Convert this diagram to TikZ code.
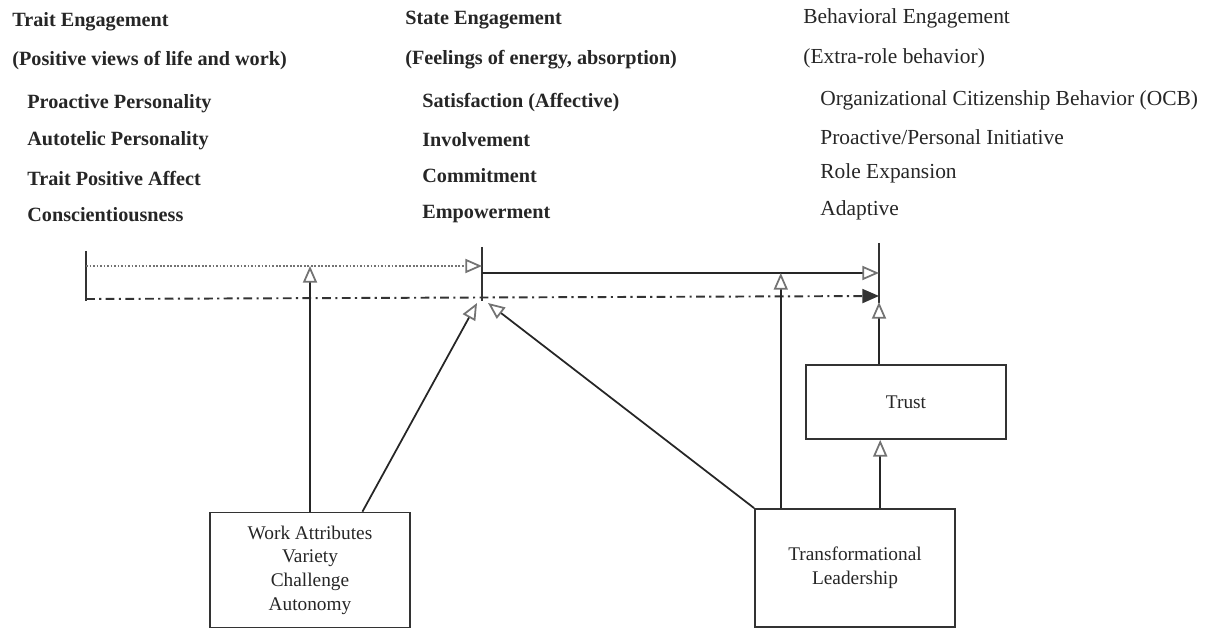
\documentclass[tikz,border=0pt]{standalone}
\usepackage{fontspec}
\setmainfont{Liberation Serif}
\usetikzlibrary{positioning,arrows.meta,calc}

\begin{document}
\begin{tikzpicture}[
        x=0.02cm, y=-0.02cm,
        heading/.style={
            anchor=west, inner sep=0pt, text=black!85,
            font=\fontsize{11.5}{13}\selectfont\bfseries
          },
        item/.style={heading},
        lightheading/.style={
            anchor=west, inner sep=0pt, text=black!85,
            font=\fontsize{12.2}{14}\selectfont
          },
        factor/.style={
            rectangle, draw=black!80, line width=1pt,
            minimum width=4cm, align=center, inner sep=3pt,
            font=\fontsize{11}{13.5}\selectfont, text=black!85
          },
        bar/.style={line width=1.3pt, draw=black!80},
        link/.style={-{Triangle[open, length=9.5pt, width=8pt, color=black!55]}, line width=1pt, draw=black!85},
        weaklink/.style={link, draw=black!55, densely dotted, line width=1pt},
        dashlink/.style={-{Triangle[length=9.5pt, width=8pt, color=black!80]}, line width=1.1pt, draw=black!80,
            dash pattern=on 5pt off 2.5pt on 1.2pt off 2.5pt},
      ]
      \useasboundingbox (0,0) rectangle (1216,631);

      % Trait column
      \node [heading] (trait) at (12, 22) {Trait Engagement};
      \node [heading] (traitsub) at (12, 61) {(Positive views of life and work)};
      \node [item] (proactive) at (27, 104) {Proactive Personality};
      \node [item] (autotelic) at (27, 141) {Autotelic Personality};
      \node [item] (affect) at (27, 178) {Trait Positive Affect};
      \node [item] (consc) at (27, 215) {Conscientiousness};

      % State column
      \node [heading] (state) at (405, 20) {State Engagement};
      \node [heading] (statesub) at (405, 60) {(Feelings of energy, absorption)};
      \node [item] (satisf) at (422, 103) {Satisfaction (Affective)};
      \node [item] (involve) at (422, 140) {Involvement};
      \node [item] (commit) at (422, 176) {Commitment};
      \node [item] (empower) at (422, 214) {Empowerment};

      % Behavioral column
      \node [lightheading] (behav) at (803, 18) {Behavioral Engagement};
      \node [lightheading] (behavsub) at (803, 58) {(Extra-role behavior)};
      \node [lightheading] (ocb) at (820, 100) {Organizational Citizenship Behavior (OCB)};
      \node [lightheading] (initiative) at (820, 137) {Proactive/Personal Initiative};
      \node [lightheading] (role) at (820, 173) {Role Expansion};
      \node [lightheading] (adaptive) at (820, 210) {Adaptive};

      % Bars
      \coordinate (traittop) at (86, 251);
      \coordinate (traitbot) at (86, 301);
      \coordinate (statetop) at (482, 247);
      \coordinate (statebot) at (482, 301);
      \coordinate (behavtop) at (879, 243);
      \coordinate (behavbot) at (879, 303);
      \draw [bar] (traittop) -- (traitbot);
      \draw [bar] (statetop) -- (statebot);
      \draw [bar] (behavtop) -- (behavbot);

      % Antecedents
      \node [factor, minimum height=2.3cm] (work) at (310, 570) {Work Attributes\\Variety\\Challenge\\Autonomy};
      \node [factor, minimum height=2.36cm] (leader) at (855, 568) {Transformational\\Leadership};
      \node [factor, minimum height=1.48cm] (trust) at (906, 402) {Trust};

      % Relationships
      \draw [weaklink] (traittop |- 0,266) -- (statetop |- 0,266);
      \draw [link] (statetop |- 0,273) -- (behavtop |- 0,273);
      \draw [dashlink] (traitbot |- 0,299) -- (behavbot |- 0,296);
      \draw [link] (work.north) -- (work.north |- 0,266);
      \draw [link] ($(work.north west)!0.76!(work.north east)$) -- ($(statebot)+(-5,2)$);
      \draw [link] (leader.north west) -- ($(statebot)+(6,2)$);
      \draw [link] ($(leader.north west)!0.132!(leader.north east)$) coordinate (lup) -- (lup |- 0,273);
      \draw [link] ($(leader.north west)!0.625!(leader.north east)$) coordinate (ltr) -- (ltr |- trust.south);
      \draw [link] (trust.north -| behavbot) -- ($(behavbot)+(0,-1)$);
    \end{tikzpicture}
\end{document}
